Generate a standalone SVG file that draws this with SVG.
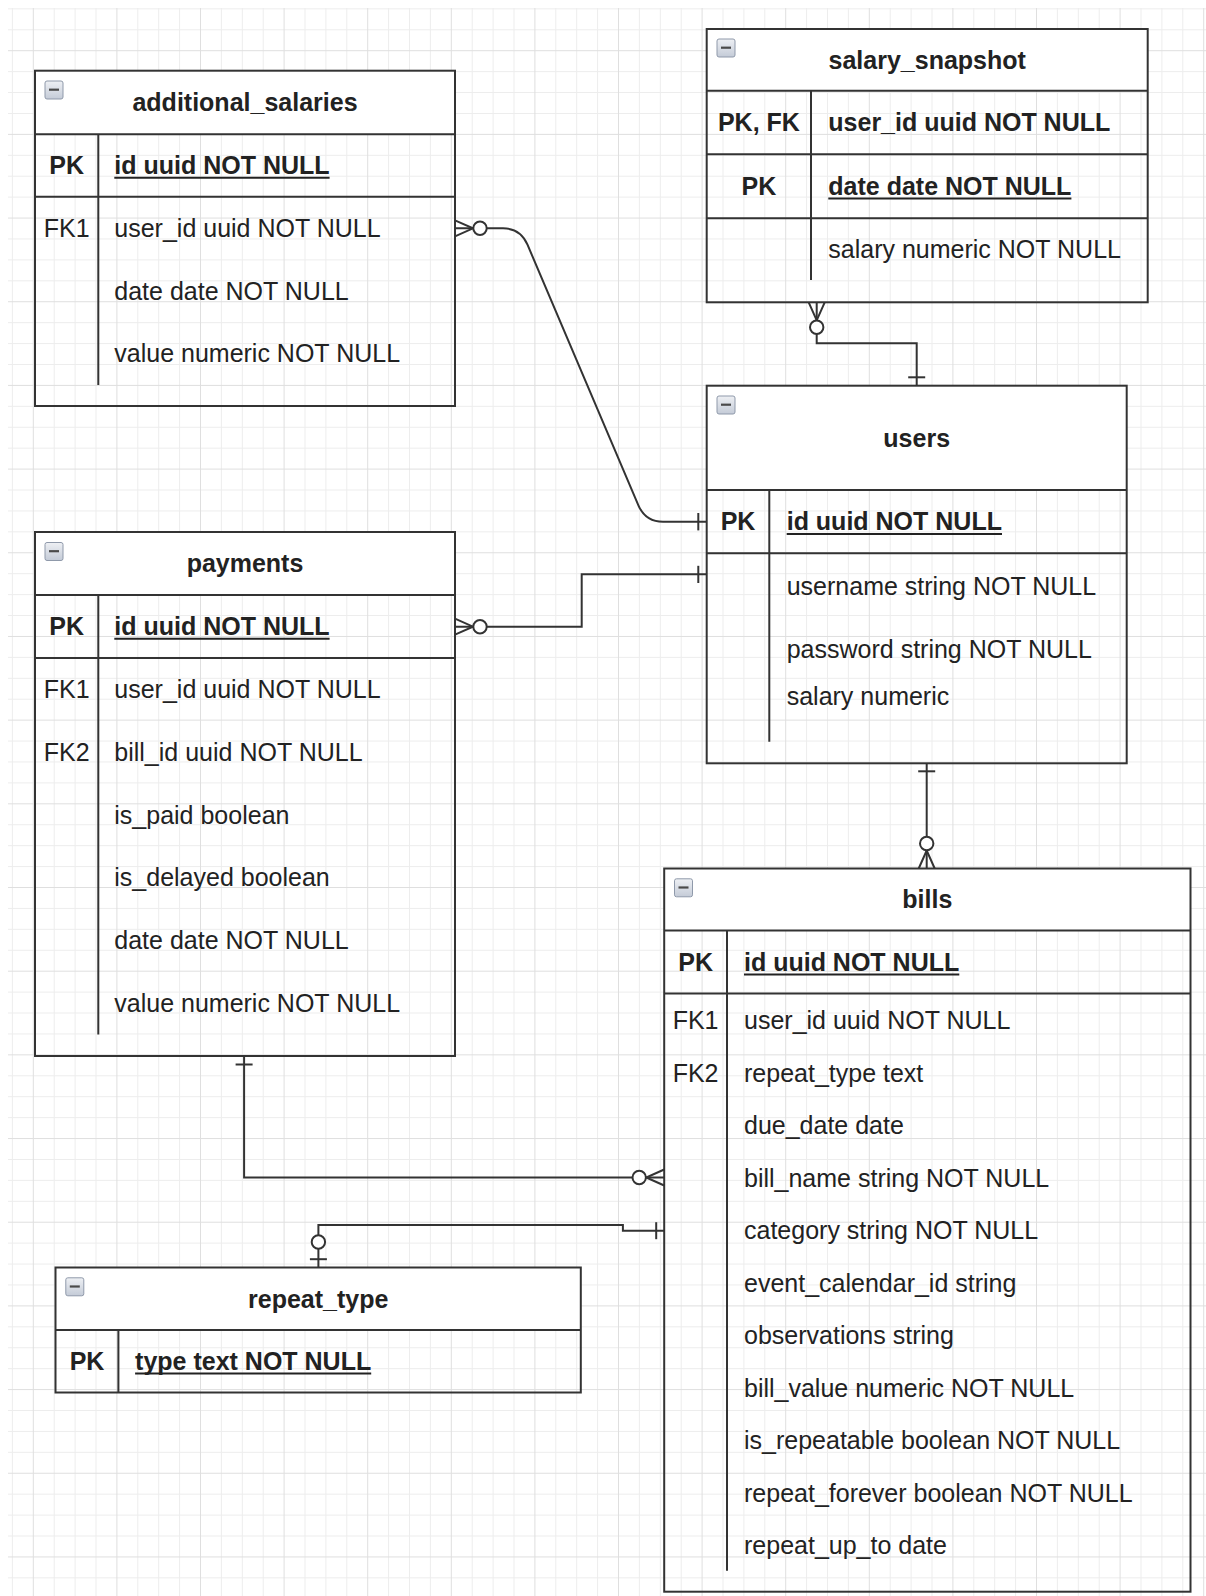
<svg xmlns="http://www.w3.org/2000/svg" xmlns:xlink="http://www.w3.org/1999/xlink" width="1206" height="1596" viewBox="0 0 1206 1596">
<style>
.t{font-family:"Liberation Sans",Arial,sans-serif;font-size:25px;fill:#222}
.b{font-weight:bold}
.c{text-anchor:middle}
.hdr{fill:#fff;stroke:none}
.box{fill:none;stroke:#333;stroke-width:2}
.ln{fill:none;stroke:#333;stroke-width:2}
.ul{stroke:#222;stroke-width:2}
.cn{fill:none;stroke:#333;stroke-width:2}
.ci{fill:#fff;stroke:#333;stroke-width:2}
.gmin{fill:none;stroke:#ededed;stroke-width:1}
.gmaj{fill:none;stroke:#dfdfdf;stroke-width:1}
</style>
<defs>
<linearGradient id="icg" x1="0" y1="0" x2="0" y2="1">
<stop offset="0" stop-color="#eef0f4"/>
<stop offset="1" stop-color="#c4cbd7"/>
</linearGradient>
<g id="ic">
<rect x="0.5" y="0.5" width="18" height="18" rx="2" fill="url(#icg)" stroke="#8f99aa" stroke-width="1"/>
<line x1="4.5" y1="9.2" x2="14.5" y2="9.2" stroke="#4a4a4a" stroke-width="2.2"/>
</g>
</defs>
<rect x="0" y="0" width="1206" height="1596" fill="#fff"/>
<g id="grid">
<path class="gmin" d="M12.4 8V1596M54.2 8V1596M75.1 8V1596M96 8V1596M137.8 8V1596M158.7 8V1596M179.6 8V1596M221.4 8V1596M242.3 8V1596M263.2 8V1596M305 8V1596M325.9 8V1596M346.8 8V1596M388.6 8V1596M409.5 8V1596M430.4 8V1596M472.2 8V1596M493.1 8V1596M514 8V1596M555.8 8V1596M576.7 8V1596M597.6 8V1596M639.4 8V1596M660.3 8V1596M681.2 8V1596M723 8V1596M743.9 8V1596M764.8 8V1596M806.6 8V1596M827.5 8V1596M848.4 8V1596M890.2 8V1596M911.1 8V1596M932 8V1596M973.8 8V1596M994.7 8V1596M1015.6 8V1596M1057.4 8V1596M1078.3 8V1596M1099.2 8V1596M1141 8V1596M1161.9 8V1596M1182.8 8V1596
M8 8.86H1206M8 29.78H1206M8 71.62H1206M8 92.54H1206M8 113.46H1206M8 155.3H1206M8 176.22H1206M8 197.14H1206M8 238.98H1206M8 259.9H1206M8 280.82H1206M8 322.66H1206M8 343.58H1206M8 364.5H1206M8 406.34H1206M8 427.26H1206M8 448.18H1206M8 490.02H1206M8 510.94H1206M8 531.86H1206M8 573.7H1206M8 594.62H1206M8 615.54H1206M8 657.38H1206M8 678.3H1206M8 699.22H1206M8 741.06H1206M8 761.98H1206M8 782.9H1206M8 824.74H1206M8 845.66H1206M8 866.58H1206M8 908.42H1206M8 929.34H1206M8 950.26H1206M8 992.1H1206M8 1013.02H1206M8 1033.94H1206M8 1075.78H1206M8 1096.7H1206M8 1117.62H1206M8 1159.46H1206M8 1180.38H1206M8 1201.3H1206M8 1243.14H1206M8 1264.06H1206M8 1284.98H1206M8 1326.82H1206M8 1347.74H1206M8 1368.66H1206M8 1410.5H1206M8 1431.42H1206M8 1452.34H1206M8 1494.18H1206M8 1515.1H1206M8 1536.02H1206M8 1577.86H1206"/>
<path class="gmaj" d="M33.3 8V1596M116.9 8V1596M200.5 8V1596M284.1 8V1596M367.7 8V1596M451.3 8V1596M534.9 8V1596M618.5 8V1596M702.1 8V1596M785.7 8V1596M869.3 8V1596M952.9 8V1596M1036.5 8V1596M1120.1 8V1596M1203.7 8V1596
M8 50.7H1206M8 134.38H1206M8 218.06H1206M8 301.74H1206M8 385.42H1206M8 469.1H1206M8 552.78H1206M8 636.46H1206M8 720.14H1206M8 803.82H1206M8 887.5H1206M8 971.18H1206M8 1054.86H1206M8 1138.54H1206M8 1222.22H1206M8 1305.9H1206M8 1389.58H1206M8 1473.26H1206M8 1556.94H1206"/>
</g>

<g id="additional_salaries">
<rect class="hdr" x="35" y="70.7" width="420" height="63.6"/>
<rect class="box" x="35" y="70.7" width="420" height="335.3"/>
<path class="ln" d="M35 134.3H455M35 196.7H455M98.3 134.3V385"/>
<use xlink:href="#ic" x="44.5" y="80.5"/>
<text class="t b c" x="245" y="111.2">additional_salaries</text>
<text class="t b c" x="66.7" y="174.2">PK</text>
<text class="t b" x="114.3" y="174.2">id uuid NOT NULL</text>
<line class="ul" x1="114.3" y1="177.8" x2="329.6" y2="177.8"/>
<text class="t c" x="66.7" y="236.7">FK1</text>
<text class="t" x="114.3" y="236.7">user_id uuid NOT NULL</text>
<text class="t" x="114.3" y="299.5">date date NOT NULL</text>
<text class="t" x="114.3" y="362.2">value numeric NOT NULL</text>
</g>

<g id="salary_snapshot">
<rect class="hdr" x="706.7" y="29" width="441" height="61.7"/>
<rect class="box" x="706.7" y="29" width="441" height="273.3"/>
<path class="ln" d="M706.7 90.7H1147.7M706.7 154.3H1147.7M706.7 218.3H1147.7M811 90.7V280"/>
<use xlink:href="#ic" x="716.5" y="38.5"/>
<text class="t b c" x="927.2" y="68.6">salary_snapshot</text>
<text class="t b c" x="758.9" y="131.2">PK, FK</text>
<text class="t b" x="828.3" y="131.2">user_id uuid NOT NULL</text>
<text class="t b c" x="758.9" y="195">PK</text>
<text class="t b" x="828.3" y="195">date date NOT NULL</text>
<line class="ul" x1="828.3" y1="198.6" x2="1071.4" y2="198.6"/>
<text class="t" x="828.3" y="257.8">salary numeric NOT NULL</text>
</g>

<g id="users">
<rect class="hdr" x="706.7" y="385.7" width="420" height="104.3"/>
<rect class="box" x="706.7" y="385.7" width="420" height="377.6"/>
<path class="ln" d="M706.7 490H1126.7M706.7 553.3H1126.7M769.3 490V741.7"/>
<use xlink:href="#ic" x="716.5" y="395.5"/>
<text class="t b c" x="916.7" y="446.6">users</text>
<text class="t b c" x="738" y="530.4">PK</text>
<text class="t b" x="786.7" y="530.4">id uuid NOT NULL</text>
<line class="ul" x1="786.7" y1="534" x2="1002" y2="534"/>
<text class="t" x="786.7" y="595.4">username string NOT NULL</text>
<text class="t" x="786.7" y="658">password string NOT NULL</text>
<text class="t" x="786.7" y="705.4">salary numeric</text>
</g>

<g id="payments">
<rect class="hdr" x="35" y="532" width="420" height="63"/>
<rect class="box" x="35" y="532" width="420" height="524"/>
<path class="ln" d="M35 595H455M35 658H455M98.3 595V1034.6"/>
<use xlink:href="#ic" x="44.5" y="542"/>
<text class="t b c" x="245" y="572.2">payments</text>
<text class="t b c" x="66.7" y="635.2">PK</text>
<text class="t b" x="114.3" y="635.2">id uuid NOT NULL</text>
<line class="ul" x1="114.3" y1="638.8" x2="329.6" y2="638.8"/>
<text class="t c" x="66.7" y="698.1">FK1</text>
<text class="t" x="114.3" y="698.1">user_id uuid NOT NULL</text>
<text class="t c" x="66.7" y="760.8">FK2</text>
<text class="t" x="114.3" y="760.8">bill_id uuid NOT NULL</text>
<text class="t" x="114.3" y="823.5">is_paid boolean</text>
<text class="t" x="114.3" y="886.2">is_delayed boolean</text>
<text class="t" x="114.3" y="948.9">date date NOT NULL</text>
<text class="t" x="114.3" y="1011.6">value numeric NOT NULL</text>
</g>

<g id="bills">
<rect class="hdr" x="664.2" y="868.5" width="526.3" height="62"/>
<rect class="box" x="664.2" y="868.5" width="526.3" height="723.2"/>
<path class="ln" d="M664.2 930.5H1190.5M664.2 993.5H1190.5M727 930.5V1570.7"/>
<use xlink:href="#ic" x="674" y="878.3"/>
<text class="t b c" x="927.3" y="908.2">bills</text>
<text class="t b c" x="695.6" y="970.9">PK</text>
<text class="t b" x="744" y="970.9">id uuid NOT NULL</text>
<line class="ul" x1="744" y1="974.5" x2="959.3" y2="974.5"/>
<text class="t c" x="695.6" y="1029.2">FK1</text>
<text class="t" x="744" y="1029.2">user_id uuid NOT NULL</text>
<text class="t c" x="695.6" y="1081.7">FK2</text>
<text class="t" x="744" y="1081.7">repeat_type text</text>
<text class="t" x="744" y="1134.2">due_date date</text>
<text class="t" x="744" y="1186.7">bill_name string NOT NULL</text>
<text class="t" x="744" y="1239.1">category string NOT NULL</text>
<text class="t" x="744" y="1291.6">event_calendar_id string</text>
<text class="t" x="744" y="1344.1">observations string</text>
<text class="t" x="744" y="1396.6">bill_value numeric NOT NULL</text>
<text class="t" x="744" y="1449">is_repeatable boolean NOT NULL</text>
<text class="t" x="744" y="1501.5">repeat_forever boolean NOT NULL</text>
<text class="t" x="744" y="1554">repeat_up_to date</text>
</g>

<g id="repeat_type">
<rect class="hdr" x="55.5" y="1267.5" width="525.3" height="62.5"/>
<rect class="box" x="55.5" y="1267.5" width="525.3" height="125"/>
<path class="ln" d="M55.5 1330H580.8M118.4 1330V1392.5"/>
<use xlink:href="#ic" x="65.3" y="1277.3"/>
<text class="t b c" x="318.2" y="1307.6">repeat_type</text>
<text class="t b c" x="87" y="1370">PK</text>
<text class="t b" x="135.1" y="1370">type text NOT NULL</text>
<line class="ul" x1="135.1" y1="1373.6" x2="371.2" y2="1373.6"/>
</g>

<g id="connectors">
<!-- additional_salaries -> users -->
<path class="cn" d="M455 228.3H503Q520.5 228.3 527.5 244.7L638.4 505.3Q645.4 521.7 663 521.7H706.7"/>
<path class="cn" d="M455 220.3L473 228.3L455 236.3"/>
<circle class="ci" cx="480" cy="228.3" r="6.7"/>
<path class="cn" d="M698.3 513V530.4"/>
<!-- payments -> users -->
<path class="cn" d="M455 626.7H581.7V574.3H706.7"/>
<path class="cn" d="M455 618.7L473 626.7L455 634.7"/>
<circle class="ci" cx="480" cy="626.7" r="6.7"/>
<path class="cn" d="M698.3 565.8V583"/>
<!-- salary_snapshot -> users -->
<path class="cn" d="M816.7 302.3V343.3H916.7V385.7"/>
<path class="cn" d="M808.7 302.3L816.7 320.3L824.7 302.3"/>
<circle class="ci" cx="816.7" cy="327.3" r="6.7"/>
<path class="cn" d="M908.2 377.3H925.2"/>
<!-- users -> bills -->
<path class="cn" d="M926.7 763.3V868.5"/>
<path class="cn" d="M918.2 771.3H935.2"/>
<path class="cn" d="M918.7 868.5L926.7 850.5L934.7 868.5"/>
<circle class="ci" cx="926.7" cy="843.5" r="6.7"/>
<!-- payments -> bills -->
<path class="cn" d="M244.1 1056V1177.5H664.2"/>
<path class="cn" d="M235.6 1064.5H252.6"/>
<path class="cn" d="M664.2 1169.5L646.2 1177.5L664.2 1185.5"/>
<circle class="ci" cx="639.2" cy="1177.5" r="6.7"/>
<!-- bills -> repeat_type -->
<path class="cn" d="M664.2 1230.7H622.9V1225H318.4V1267.5"/>
<path class="cn" d="M656.2 1222.2V1239.2"/>
<circle class="ci" cx="318.4" cy="1242" r="6.7"/>
<path class="cn" d="M309.9 1259.2H326.9"/>
</g>
</svg>
